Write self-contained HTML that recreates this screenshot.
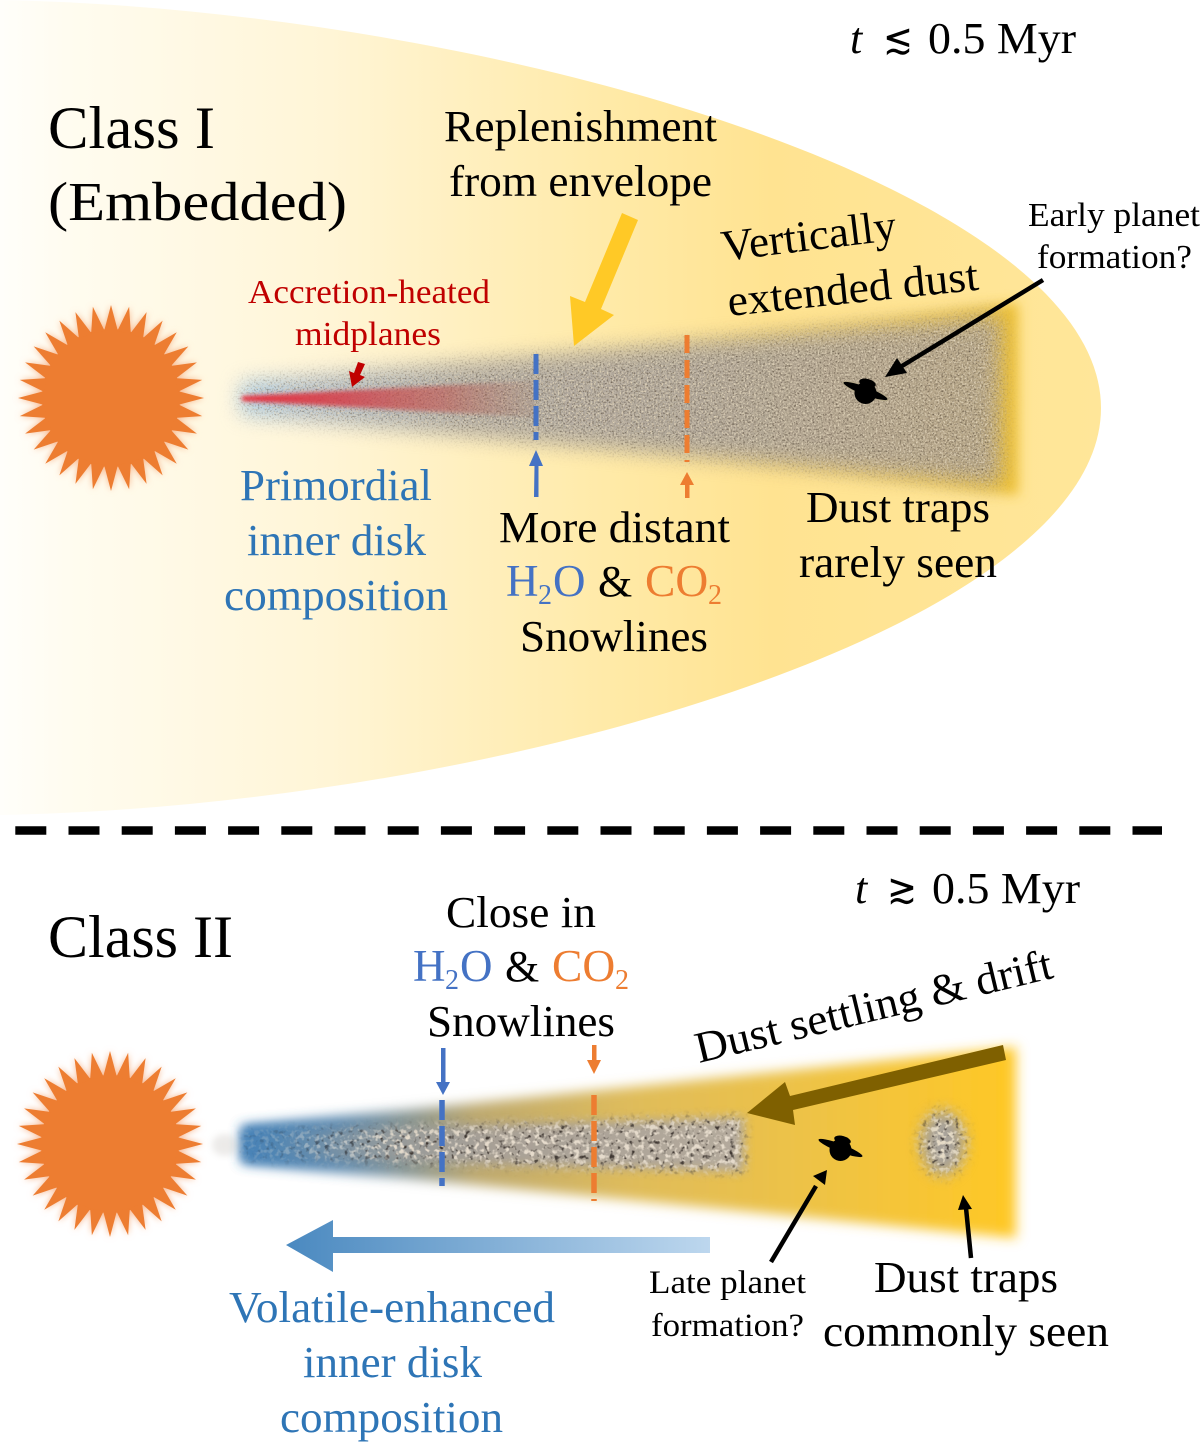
<!DOCTYPE html>
<html><head><meta charset="utf-8"><style>
html,body{margin:0;padding:0;background:#fff}
svg{display:block}
text{font-family:"Liberation Serif","Times New Roman",serif;fill:#000}
.b{fill:#2e75b6}.o{fill:#ed7d31}.bb{fill:#4472c4}.r{fill:#c00000}
</style></head><body>
<svg width="1200" height="1443" viewBox="0 0 1200 1443" xmlns="http://www.w3.org/2000/svg">
<defs>
<polygon id="sp" points="-6.9,-67 0,-93 6.9,-67"/>
<g id="star">
<circle r="69"/>
<use href="#sp" transform="rotate(0)"/><use href="#sp" transform="rotate(11.25)"/><use href="#sp" transform="rotate(22.5)"/><use href="#sp" transform="rotate(33.75)"/><use href="#sp" transform="rotate(45)"/><use href="#sp" transform="rotate(56.25)"/><use href="#sp" transform="rotate(67.5)"/><use href="#sp" transform="rotate(78.75)"/><use href="#sp" transform="rotate(90)"/><use href="#sp" transform="rotate(101.25)"/><use href="#sp" transform="rotate(112.5)"/><use href="#sp" transform="rotate(123.75)"/><use href="#sp" transform="rotate(135)"/><use href="#sp" transform="rotate(146.25)"/><use href="#sp" transform="rotate(157.5)"/><use href="#sp" transform="rotate(168.75)"/><use href="#sp" transform="rotate(180)"/><use href="#sp" transform="rotate(191.25)"/><use href="#sp" transform="rotate(202.5)"/><use href="#sp" transform="rotate(213.75)"/><use href="#sp" transform="rotate(225)"/><use href="#sp" transform="rotate(236.25)"/><use href="#sp" transform="rotate(247.5)"/><use href="#sp" transform="rotate(258.75)"/><use href="#sp" transform="rotate(270)"/><use href="#sp" transform="rotate(281.25)"/><use href="#sp" transform="rotate(292.5)"/><use href="#sp" transform="rotate(303.75)"/><use href="#sp" transform="rotate(315)"/><use href="#sp" transform="rotate(326.25)"/><use href="#sp" transform="rotate(337.5)"/><use href="#sp" transform="rotate(348.75)"/>
</g>
<linearGradient id="env" gradientUnits="userSpaceOnUse" x1="0" y1="0" x2="1101" y2="0">
<stop offset="0" stop-color="#fffefa"/><stop offset=".06" stop-color="#fffcf0"/><stop offset=".3" stop-color="#fff5d6"/><stop offset=".55" stop-color="#ffeaa8"/><stop offset=".7" stop-color="#ffe391"/><stop offset="1" stop-color="#ffe699"/></linearGradient>
<linearGradient id="gold1" gradientUnits="userSpaceOnUse" x1="650" y1="0" x2="1018" y2="0">
<stop offset="0" stop-color="#f4c93f" stop-opacity="0"/><stop offset=".6" stop-color="#f0c440" stop-opacity=".5"/><stop offset="1" stop-color="#eec030"/></linearGradient>
<linearGradient id="gray1" gradientUnits="userSpaceOnUse" x1="242" y1="0" x2="1000" y2="0">
<stop offset="0" stop-color="#a6cdec"/><stop offset=".08" stop-color="#b4c2d0"/><stop offset=".3" stop-color="#b2aca4"/><stop offset=".6" stop-color="#b0a698"/><stop offset="1" stop-color="#b6a585"/></linearGradient>
<linearGradient id="red1" gradientUnits="userSpaceOnUse" x1="242" y1="0" x2="535" y2="0">
<stop offset="0" stop-color="#e8303e"/><stop offset=".35" stop-color="#d4404a" stop-opacity=".85"/><stop offset=".7" stop-color="#c05a54" stop-opacity=".6"/><stop offset="1" stop-color="#a07060" stop-opacity=".15"/></linearGradient>
<linearGradient id="disk2" gradientUnits="userSpaceOnUse" x1="242" y1="0" x2="1018" y2="0">
<stop offset="0" stop-color="#3f7fb8"/><stop offset=".12" stop-color="#5f8aae"/><stop offset=".22" stop-color="#8b9690"/><stop offset=".3" stop-color="#bda970"/><stop offset=".5" stop-color="#dfbc5b"/><stop offset=".75" stop-color="#efc344"/><stop offset="1" stop-color="#ffc825"/></linearGradient>
<linearGradient id="gray2" gradientUnits="userSpaceOnUse" x1="242" y1="0" x2="748" y2="0">
<stop offset="0" stop-color="#5f8db4"/><stop offset=".2" stop-color="#8f989c"/><stop offset=".5" stop-color="#a8a096"/><stop offset="1" stop-color="#b4aa9c"/></linearGradient>
<linearGradient id="blueFade" gradientUnits="userSpaceOnUse" x1="242" y1="0" x2="400" y2="0">
<stop offset="0" stop-color="#3f7fb8" stop-opacity=".85"/><stop offset="1" stop-color="#5f8aae" stop-opacity="0"/></linearGradient>
<linearGradient id="blueArrow" gradientUnits="userSpaceOnUse" x1="286" y1="0" x2="710" y2="0">
<stop offset="0" stop-color="#4a89c0"/><stop offset="1" stop-color="#bdd7ee"/></linearGradient>
<filter id="blur6" x="-10%" y="-30%" width="120%" height="160%"><feGaussianBlur stdDeviation="6"/></filter>
<filter id="blur2" x="-10%" y="-100%" width="120%" height="300%"><feGaussianBlur stdDeviation="2.2"/></filter>
<filter id="glow" x="-20%" y="-20%" width="140%" height="140%"><feGaussianBlur stdDeviation="3.5"/></filter>
<filter id="noise1" x="-5%" y="-20%" width="110%" height="140%" color-interpolation-filters="sRGB">
<feGaussianBlur in="SourceGraphic" stdDeviation="10" result="b"/>
<feTurbulence type="fractalNoise" baseFrequency=".55" numOctaves="2" seed="4" result="t"/>
<feColorMatrix in="t" values="0 0 0 0 .88 0 0 0 0 .83 0 0 0 0 .73 3 0 0 0 -1.4" result="l"/>
<feComposite in="l" in2="b" operator="in" result="ln"/>
<feColorMatrix in="t" values="0 0 0 0 .38 0 0 0 0 .33 0 0 0 0 .27 0 2.5 0 0 -1.25" result="d"/>
<feComposite in="d" in2="b" operator="in" result="dn"/>
<feMerge><feMergeNode in="b"/><feMergeNode in="dn"/><feMergeNode in="ln"/></feMerge></filter>
<filter id="noise2" x="-10%" y="-30%" width="120%" height="160%" color-interpolation-filters="sRGB">
<feGaussianBlur in="SourceGraphic" stdDeviation="5" result="b"/>
<feTurbulence type="fractalNoise" baseFrequency=".2" numOctaves="2" seed="7" result="t"/>
<feColorMatrix in="t" values="0 0 0 0 .9 0 0 0 0 .86 0 0 0 0 .8 5 0 0 0 -2.5" result="l"/>
<feComposite in="l" in2="b" operator="in" result="ln"/>
<feColorMatrix in="t" values="0 0 0 0 .25 0 0 0 0 .22 0 0 0 0 .2 0 5 0 0 -2.9" result="d"/>
<feComposite in="d" in2="b" operator="in" result="dn"/>
<feMerge><feMergeNode in="b"/><feMergeNode in="dn"/><feMergeNode in="ln"/></feMerge></filter>
<filter id="noise3" x="-40%" y="-40%" width="180%" height="180%" color-interpolation-filters="sRGB">
<feGaussianBlur in="SourceGraphic" stdDeviation="7" result="b"/>
<feTurbulence type="fractalNoise" baseFrequency=".22" numOctaves="2" seed="11" result="t"/>
<feColorMatrix in="t" values="0 0 0 0 .9 0 0 0 0 .86 0 0 0 0 .78 5 0 0 0 -2.4" result="l"/>
<feComposite in="l" in2="b" operator="in" result="ln"/>
<feColorMatrix in="t" values="0 0 0 0 .25 0 0 0 0 .22 0 0 0 0 .2 0 5 0 0 -2.9" result="d"/>
<feComposite in="d" in2="b" operator="in" result="dn"/>
<feMerge><feMergeNode in="b"/><feMergeNode in="dn"/><feMergeNode in="ln"/></feMerge></filter>
</defs>

<!-- envelope -->
<path d="M0,0 C500,10 1101,190 1101,408 C1101,626 500,806 0,815 Z" fill="url(#env)"/>

<!-- class I disk -->
<path d="M242,385 L1018,303 L1018,495 L242,412 Z" fill="url(#gold1)" filter="url(#blur6)"/>
<path d="M242,384 L1000,316 L1000,484 L242,413 Z" fill="url(#gray1)" filter="url(#noise1)"/>
<path d="M242,396 L535,381 L535,417 L242,401 Z" fill="url(#red1)" filter="url(#blur2)"/>

<!-- suns -->
<use href="#star" transform="translate(111,398)" fill="#f7b48a" filter="url(#glow)"/>
<use href="#star" transform="translate(111,398)" fill="#ed7d31"/>
<use href="#star" transform="translate(110,1144)" fill="#f7b48a" filter="url(#glow)"/>
<use href="#star" transform="translate(110,1144)" fill="#ed7d31"/>

<!-- class I markers -->
<line x1="536" y1="354" x2="536" y2="440" stroke="#4472c4" stroke-width="5" stroke-dasharray="20 6"/>
<line x1="687" y1="335" x2="687" y2="462" stroke="#ed7d31" stroke-width="5" stroke-dasharray="18 7"/>
<path d="M534,497 L534.5,466 L529,466 L536,450 L543,466 L538.500,466 L538.500,497 Z" fill="#4472c4"/>
<path d="M685,498 L685,485 L680,485 L687,472 L694,485 L689.500,485 L689.500,498 Z" fill="#ed7d31"/>
<path d="M358,362 L365,364 L360,375 L365,377 L352,387 L349,371 L354,373 Z" fill="#c00000"/>
<!-- yellow arrow -->
<path d="M622,213 L638,220 L601,309 L614,315 L574,346 L570,296 L585,302 Z" fill="#ffc926"/>
<!-- black arrow to planet -->
<path d="M1043,280 L902,366" stroke="#000" stroke-width="4.500" fill="none"/>
<path d="M885,377 L897,358 L907,373 Z" fill="#000"/>
<!-- planet I -->
<g transform="translate(865.5,392)">
<ellipse cx="2" cy="-9" rx="8.500" ry="4" transform="rotate(15 2 -9)" fill="#000"/>
<ellipse cy="-1" rx="24" ry="4.500" transform="rotate(21 0 -1)" fill="#000" stroke="#b4a888" stroke-width="1"/>
<circle r="11" cy="1" fill="#000"/>
</g>

<!-- divider -->
<line x1="15.3" y1="830.500" x2="1162" y2="830.500" stroke="#000" stroke-width="8.500" stroke-dasharray="31 22.2"/>

<!-- class II disk -->
<path d="M242,1127 L1016,1047 L1016,1238 L242,1162 Z" fill="url(#disk2)" filter="url(#blur6)"/>
<path d="M246,1132 L744,1117 L744,1172 L246,1157 Z" fill="url(#gray2)" filter="url(#noise2)"/>
<path d="M242,1127 L400,1112 L400,1178 L242,1162 Z" fill="url(#blueFade)" filter="url(#blur6)"/>
<ellipse cx="943" cy="1143" rx="22" ry="32" fill="#a8a29a" filter="url(#noise3)"/>
<ellipse cx="225" cy="1145" rx="13" ry="11" fill="#c9c5c0" opacity=".35" filter="url(#glow)"/>

<!-- class II markers -->
<line x1="442" y1="1100" x2="442" y2="1186" stroke="#4472c4" stroke-width="5.500" stroke-dasharray="20 6"/>
<line x1="594" y1="1095" x2="594" y2="1201" stroke="#ed7d31" stroke-width="5.500" stroke-dasharray="20 6"/>
<path d="M441,1048 L445.500,1048 L445.500,1082 L450,1082 L443,1095 L436,1082 L441,1082 Z" fill="#4472c4"/>
<path d="M592,1045 L596.500,1045 L596.500,1060 L601,1060 L594,1074 L587,1060 L592,1060 Z" fill="#ed7d31"/>

<!-- brown arrow -->
<path d="M1003,1045 L1006,1060 L793,1110 L795,1125 L747,1113 L785,1082 L790,1096 Z" fill="#7f6000"/>
<!-- blue gradient arrow -->
<path d="M710,1237 L710,1253 L333,1253 L333,1272 L286,1245 L333,1220 L333,1237 Z" fill="url(#blueArrow)"/>
<!-- black arrows II -->
<path d="M771,1262 L816,1186" stroke="#000" stroke-width="4.500" fill="none"/>
<path d="M827,1170 L825,1185 L813,1176 Z" fill="#000"/>
<path d="M971,1258 L966,1208" stroke="#000" stroke-width="4.500" fill="none"/>
<path d="M963,1195 L972,1209 L958,1210 Z" fill="#000"/>
<!-- planet II -->
<g transform="translate(840.500,1149)">
<ellipse cx="2" cy="-9" rx="8.500" ry="4" transform="rotate(15 2 -9)" fill="#000"/>
<ellipse cy="-1" rx="24" ry="4.500" transform="rotate(21 0 -1)" fill="#000" stroke="#eec346" stroke-width="1"/>
<circle r="11" cy="1" fill="#000"/>
</g>

<!-- text class I -->
<text x="48" y="148" font-size="60" textLength="167" lengthAdjust="spacingAndGlyphs">Class I</text>
<text x="48" y="220" font-size="55" textLength="299" lengthAdjust="spacingAndGlyphs">(Embedded)</text>
<text x="850" y="53" font-size="44" font-style="italic">t</text>
<text x="883" y="53" font-size="42" textLength="30" lengthAdjust="spacingAndGlyphs">≲</text>
<text x="928" y="53" font-size="44" textLength="148" lengthAdjust="spacingAndGlyphs">0.5 Myr</text>
<text x="444" y="141" font-size="44" textLength="273" lengthAdjust="spacingAndGlyphs">Replenishment</text>
<text x="449" y="196" font-size="44" textLength="263" lengthAdjust="spacingAndGlyphs">from envelope</text>
<text transform="translate(723,261) rotate(-7)" font-size="44" textLength="176" lengthAdjust="spacingAndGlyphs">Vertically</text>
<text transform="translate(729,316) rotate(-6)" font-size="44" textLength="252" lengthAdjust="spacingAndGlyphs">extended dust</text>
<text x="1028" y="226" font-size="34" textLength="172" lengthAdjust="spacingAndGlyphs">Early planet</text>
<text x="1037" y="268" font-size="34" textLength="155" lengthAdjust="spacingAndGlyphs">formation?</text>
<text class="r" x="248" y="303" font-size="34" textLength="242" lengthAdjust="spacingAndGlyphs">Accretion-heated</text>
<text class="r" x="295" y="345" font-size="34" textLength="146" lengthAdjust="spacingAndGlyphs">midplanes</text>
<text class="b" x="240" y="500" font-size="44" textLength="192" lengthAdjust="spacingAndGlyphs">Primordial</text>
<text class="b" x="247" y="555" font-size="44" textLength="179" lengthAdjust="spacingAndGlyphs">inner disk</text>
<text class="b" x="224" y="610" font-size="44" textLength="224" lengthAdjust="spacingAndGlyphs">composition</text>
<text x="499" y="542" font-size="44" textLength="231" lengthAdjust="spacingAndGlyphs">More distant</text>
<text class="bb" x="506" y="596" font-size="45">H</text><text class="bb" x="538" y="604" font-size="28">2</text><text class="bb" x="553" y="596" font-size="45">O</text>
<text x="598" y="596" font-size="44">&amp;</text>
<text class="o" x="645" y="596" font-size="45.5">CO</text><text class="o" x="708" y="604" font-size="28">2</text>
<text x="520" y="651" font-size="44" textLength="188" lengthAdjust="spacingAndGlyphs">Snowlines</text>
<text x="806" y="522" font-size="44" textLength="184" lengthAdjust="spacingAndGlyphs">Dust traps</text>
<text x="799" y="577" font-size="44" textLength="198" lengthAdjust="spacingAndGlyphs">rarely seen</text>

<!-- text class II -->
<text x="48" y="957" font-size="60" textLength="185" lengthAdjust="spacingAndGlyphs">Class II</text>
<text x="855" y="903" font-size="44" font-style="italic">t</text>
<text x="887" y="903" font-size="42" textLength="30" lengthAdjust="spacingAndGlyphs">≳</text>
<text x="932" y="903" font-size="44" textLength="148" lengthAdjust="spacingAndGlyphs">0.5 Myr</text>
<text x="446" y="927" font-size="44" textLength="150" lengthAdjust="spacingAndGlyphs">Close in</text>
<text class="bb" x="413" y="981" font-size="45">H</text><text class="bb" x="445" y="989" font-size="28">2</text><text class="bb" x="460" y="981" font-size="45">O</text>
<text x="505" y="981" font-size="44">&amp;</text>
<text class="o" x="552" y="981" font-size="45.5">CO</text><text class="o" x="615" y="989" font-size="28">2</text>
<text x="427" y="1036" font-size="44" textLength="188" lengthAdjust="spacingAndGlyphs">Snowlines</text>
<text transform="translate(699,1063) rotate(-13.500)" font-size="44" textLength="366" lengthAdjust="spacingAndGlyphs">Dust settling &amp; drift</text>
<text x="649" y="1293" font-size="33" textLength="157" lengthAdjust="spacingAndGlyphs">Late planet</text>
<text x="651" y="1336" font-size="33" textLength="153" lengthAdjust="spacingAndGlyphs">formation?</text>
<text x="874" y="1292" font-size="44" textLength="184" lengthAdjust="spacingAndGlyphs">Dust traps</text>
<text x="823" y="1346" font-size="44" textLength="286" lengthAdjust="spacingAndGlyphs">commonly seen</text>
<text class="b" x="229" y="1322" font-size="44" textLength="326" lengthAdjust="spacingAndGlyphs">Volatile-enhanced</text>
<text class="b" x="303" y="1377" font-size="44" textLength="179" lengthAdjust="spacingAndGlyphs">inner disk</text>
<text class="b" x="280" y="1432" font-size="44" textLength="223" lengthAdjust="spacingAndGlyphs">composition</text>
</svg>
</body></html>
